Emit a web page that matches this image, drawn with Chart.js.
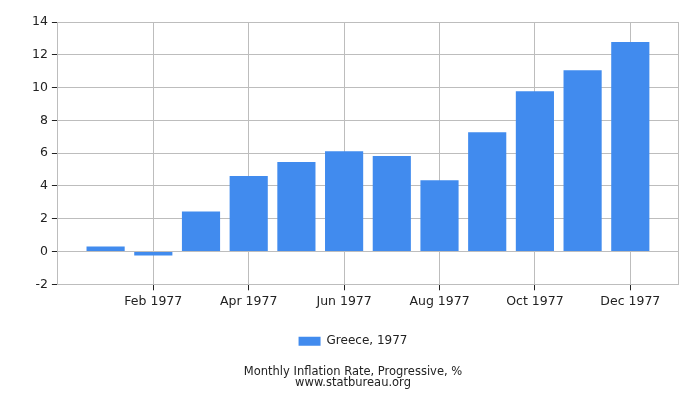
<!DOCTYPE html>
<html>
<head>
<meta charset="utf-8">
<script src="https://cdn.jsdelivr.net/npm/chart.js@4"></script>
<style>
  body { margin: 0; background: #fff; }
  #wrap { width: 700px; height: 400px; }
</style>
</head>
<body>
<div id="wrap"><canvas id="chart"></canvas></div>
<script>
// padded with an empty slot on each side, like the original axis
const months = ['', 'Jan 1977', 'Feb 1977', 'Mar 1977', 'Apr 1977', 'May 1977', 'Jun 1977',
  'Jul 1977', 'Aug 1977', 'Sep 1977', 'Oct 1977', 'Nov 1977', 'Dec 1977', ''];
const inflation = [null, 0.3, -0.25, 2.44, 4.6, 5.46, 6.11, 5.83, 4.34, 7.27, 9.78, 11.06, 12.78, null];
const shownLabels = ['Feb 1977', 'Apr 1977', 'Jun 1977', 'Aug 1977', 'Oct 1977', 'Dec 1977'];
const seriesName = 'Greece, 1977';
const titleLines = ['Monthly Inflation Rate, Progressive, %', 'www.statbureau.org'];

const gridGray = '#bdbdbd';
const font = 'DejaVu Sans';

new Chart(document.getElementById('chart'), {
  type: 'bar',
  data: {
    labels: months,
    datasets: [{
      label: seriesName,
      data: inflation,
      backgroundColor: '#418bee',
      borderWidth: 0,
      barPercentage: 0.8,
      categoryPercentage: 1.0
    }]
  },
  options: {
    responsive: true,
    maintainAspectRatio: false,
    animation: false,
    layout: { padding: { left: 28, right: 22, top: 22, bottom: 8 } },
    scales: {
      x: {
        offset: false,
        afterFit: scale => { scale.height += 8; },
        grid: {
          offset: false,
          color: ctx => (shownLabels.includes(months[ctx.index]) || ctx.index === months.length - 1) ? gridGray : 'rgba(0,0,0,0)',
          tickColor: ctx => shownLabels.includes(months[ctx.index]) ? '#222' : 'rgba(0,0,0,0)',
          tickLength: 6
        },
        border: { color: gridGray },
        ticks: {
          autoSkip: false,
          maxRotation: 0,
          color: '#222',
          font: { family: font, size: 12.5 },
          padding: 4,
          callback: function (v, i) { return shownLabels.includes(months[i]) ? months[i] : ''; }
        }
      },
      y: {
        min: -2,
        max: 14,
        ticks: {
          stepSize: 2,
          color: '#222',
          font: { family: font, size: 12.5 },
          padding: 4
        },
        grid: { color: gridGray, tickColor: '#222', tickLength: 6 },
        border: { color: gridGray }
      }
    },
    plugins: {
      legend: {
        position: 'bottom',
        labels: {
          boxWidth: 22,
          boxHeight: 9,
          color: '#222',
          font: { family: font, size: 12 },
          padding: 14
        }
      },
      title: {
        display: true,
        position: 'bottom',
        text: titleLines,
        color: '#222',
        font: { family: font, size: 11.5, weight: 'normal', lineHeight: 0.9 },
        padding: { top: 10, bottom: 4 }
      },
      tooltip: { enabled: false }
    }
  }
});
</script>
</body>
</html>
